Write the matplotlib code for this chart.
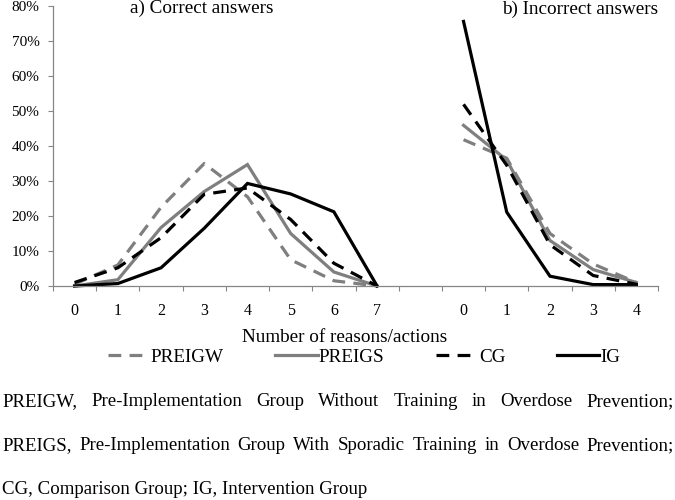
import matplotlib
matplotlib.use("Agg")
import matplotlib.pyplot as plt
import numpy as np
from matplotlib.ticker import PercentFormatter, FixedLocator

plt.rcParams["font.family"] = ["Liberation Serif", "DejaVu Serif"]

# values (percent of respondents)
correct_levels = [0, 1, 2, 3, 4, 5, 6, 7]
incorrect_levels = [0, 1, 2, 3, 4]

preigw_correct = [0.5, 6.0, 22.5, 35.0, 25.5, 7.5, 1.5, 0.0]
preigs_correct = [0.0, 1.8, 16.7, 27.0, 34.7, 15.0, 4.0, 0.0]
cg_correct = [1.0, 5.2, 13.8, 26.2, 28.0, 19.0, 6.5, 0.0]
ig_correct = [0.0, 0.7, 5.2, 16.5, 29.3, 26.3, 21.2, 0.0]

preigw_incorrect = [41.8, 36.5, 15.0, 6.3, 1.0]
preigs_incorrect = [45.9, 36.0, 13.0, 4.7, 1.0]
cg_incorrect = [51.9, 34.5, 11.8, 3.0, 0.5]
ig_incorrect = [75.6, 21.1, 2.8, 0.4, 0.4]

series_names = ["PREIGW", "PREIGS", "CG", "IG"]
footnote_lines = [
    "PREIGW, Pre-Implementation Group Without Training in Overdose Prevention;",
    "PREIGS, Pre-Implementation Group With Sporadic Training in Overdose Prevention;",
    "CG, Comparison Group; IG, Intervention Group",
]

GRAY = "#7f7f7f"
AXIS_GRAY = "#868686"
styles = {
    "PREIGW": dict(color=GRAY, dashes=(4, 2.6)),
    "PREIGS": dict(color=GRAY),
    "CG": dict(color="black", dashes=(4, 2.6)),
    "IG": dict(color="black"),
}
correct_data = dict(zip(series_names, [preigw_correct, preigs_correct, cg_correct, ig_correct]))
incorrect_data = dict(zip(series_names, [preigw_incorrect, preigs_incorrect, cg_incorrect, ig_incorrect]))

# two panels share one category axis: 0..7, an empty slot, then 0..4
gap = 1
x_correct = np.arange(len(correct_levels))
x_incorrect = np.arange(len(incorrect_levels)) + len(correct_levels) + gap
n_slots = len(correct_levels) + gap + len(incorrect_levels)

W, H = 675, 500
fig = plt.figure(figsize=(W / 100, H / 100), dpi=100)
ax = fig.add_axes([53 / W, 1 - 286 / H, 605 / W, 280 / H])

for name in series_names:
    st = styles[name]
    ax.plot(x_correct, np.array(correct_data[name]) / 100, lw=2.3,
            solid_joinstyle="miter", clip_on=False, label=name, **st)
    ax.plot(x_incorrect, np.array(incorrect_data[name]) / 100, lw=2.3,
            solid_joinstyle="miter", clip_on=False, **st)

ax.set_xlim(-0.5, n_slots - 0.5)
ax.set_ylim(0, 0.8)
ax.yaxis.set_major_locator(FixedLocator(np.arange(0, 0.81, 0.1)))
ax.yaxis.set_major_formatter(PercentFormatter(1.0, decimals=0))

ax.set_xticks(np.concatenate([x_correct, x_incorrect]))
ax.set_xticklabels([str(v) for v in correct_levels + incorrect_levels])
ax.xaxis.set_minor_locator(FixedLocator(np.arange(-0.5, n_slots, 1.0)))
ax.tick_params(axis="x", which="major", length=0, pad=12, labelsize=11.5)
ax.tick_params(axis="x", which="minor", length=3.8, width=0.8, color=AXIS_GRAY, direction="out")
ax.tick_params(axis="y", length=3.8, width=0.8, color=AXIS_GRAY, pad=6, labelsize=11)

for side in ("top", "right"):
    ax.spines[side].set_visible(False)
for side in ("left", "bottom"):
    ax.spines[side].set_color(AXIS_GRAY)
    ax.spines[side].set_linewidth(0.9)

fig.text(202 / W, 1 - 8 / H, "a) Correct answers", ha="center", va="center", fontsize=13.8)
fig.text(658 / W, 1 - 9 / H, "b) Incorrect answers", ha="right", va="center", fontsize=13.8)
fig.text(345 / W, 1 - 338 / H, "Number of reasons/actions", ha="center", va="center", fontsize=13.8)

fig.legend(loc="center", bbox_to_anchor=(364 / W, 1 - 357 / H), ncol=4, frameon=False,
           fontsize=13.8, handlelength=2.2, handletextpad=0.05, columnspacing=2.7,
           borderaxespad=0, borderpad=0)

# justified footnote lines
fig.canvas.draw()
renderer = fig.canvas.get_renderer()
x_left, x_right = 2, 674
for i, text in enumerate(footnote_lines):
    y = 1 - (402 + 44 * i) / H
    words = text.split(" ")
    if i == len(footnote_lines) - 1:
        fig.text(x_left / W, y, text, ha="left", va="center", fontsize=13.6)
        continue
    objs = [fig.text(0, y, w, ha="left", va="center", fontsize=13.6) for w in words]
    widths = [o.get_window_extent(renderer).width for o in objs]
    space = (x_right - x_left - sum(widths)) / (len(words) - 1)
    x = x_left
    for o, w in zip(objs, widths):
        o.set_x(x / W)
        x += w + space

fig.savefig("out.png", dpi=100)
